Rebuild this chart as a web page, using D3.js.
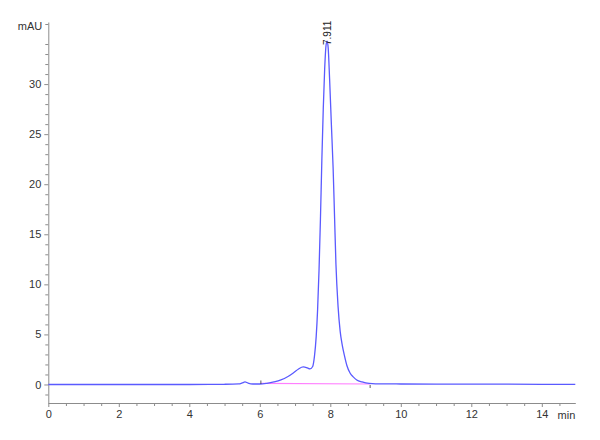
<!DOCTYPE html>
<html>
<head>
<meta charset="utf-8">
<script src="https://cdn.jsdelivr.net/npm/d3@7"></script>
<style>
  body { margin: 0; background: #fff; }
  svg { display: block; }
  .axis path, .axis line { stroke: #8c8c8c; }
  .axis text { font-family: "Liberation Sans Narrow", "Liberation Sans", Arial, sans-serif; font-size: 11px; fill: #333; }
</style>
</head>
<body>
<div id="chart"></div>
<script>
// Chromatogram trace (min, mAU)
const tiempos = [0, 1, 2, 3, 4, 5, 5.4, 5.5, 5.58, 5.66, 5.8, 6.0, 6.2, 6.4, 6.6, 6.8, 6.95, 7.1, 7.23, 7.35, 7.42, 7.5,
  7.55, 7.6, 7.64, 7.68, 7.72, 7.76, 7.8, 7.84, 7.88, 7.91, 7.94, 7.98, 8.03, 8.08, 8.12, 8.16, 8.22, 8.28, 8.34, 8.4,
  8.47, 8.56, 8.65, 8.75, 8.9, 9.1, 9.5, 10, 11, 12, 13, 14, 14.95];
const mau = [0.0, 0.0, 0.0, 0.0, 0.0, 0.02, 0.05, 0.15, 0.25, 0.15, 0.05, 0.05, 0.12, 0.25, 0.45, 0.8, 1.15, 1.55, 1.75, 1.65, 1.55, 1.8,
  2.8, 4.8, 7.5, 11.4, 16.5, 22.4, 27.5, 31.5, 33.9, 34.3, 33.6, 30.5, 26.0, 21.6, 16.8, 12.0, 7.8, 5.3, 3.9, 2.9,
  1.9, 1.15, 0.76, 0.45, 0.26, 0.12, 0.06, 0.05, 0.04, 0.04, 0.03, 0.02, 0.02];

// Integration baseline (min, mAU)
const baseT = [6.03, 9.13];
const baseV = [0.1, 0.05];

const picoTiempo = 7.911;
const picoAltura = 34.3;
const picoEtiqueta = "7.911";

const xMayores = [0, 2, 4, 6, 8, 10, 12, 14];
const yMayores = [0, 5, 10, 15, 20, 25, 30];

const width = 600, height = 440;

const svg = d3.select("#chart").append("svg")
  .attr("width", width).attr("height", height);

const x = d3.scaleLinear().domain([0, 14.95]).range([48.3, 575.3]);
const y = d3.scaleLinear().domain([-1.85, 36.2]).range([403, 22]);

// Ejes: menores primero
const xMenores = d3.range(0, 15, 0.5).filter(v => v % 2 !== 0);
svg.append("g").attr("class", "axis")
  .attr("transform", `translate(0,${y(-1.85)})`)
  .call(d3.axisBottom(x).tickValues(xMenores).tickSize(3).tickFormat(""))
  .select(".domain").remove();
svg.append("g").attr("class", "axis")
  .attr("transform", `translate(0,${y(-1.85)})`)
  .call(d3.axisBottom(x).tickValues(xMayores).tickSize(4).tickSizeOuter(0).tickPadding(3).tickFormat(d3.format("d")));

const yMenores = d3.range(-1, 37, 1).filter(v => v % 5 !== 0);
svg.append("g").attr("class", "axis")
  .attr("transform", `translate(${x(0)},0)`)
  .call(d3.axisLeft(y).tickValues(yMenores).tickSize(3).tickFormat(""))
  .select(".domain").remove();
svg.append("g").attr("class", "axis")
  .attr("transform", `translate(${x(0)},0)`)
  .call(d3.axisLeft(y).tickValues(yMayores).tickSize(4).tickSizeOuter(0).tickPadding(3).tickFormat(d3.format("d")));

svg.append("text")
  .attr("x", x(0) - 6).attr("y", y(35.4))
  .attr("text-anchor", "end")
  .style("font-family", "'Liberation Sans Narrow', 'Liberation Sans', Arial, sans-serif")
  .style("font-size", "11px").style("fill", "#333")
  .text("mAU");

svg.append("text")
  .attr("x", x(14.95)).attr("y", 419)
  .attr("text-anchor", "end")
  .style("font-family", "'Liberation Sans Narrow', 'Liberation Sans', Arial, sans-serif")
  .style("font-size", "11px").style("fill", "#333")
  .text("min");

// Linea base de integracion
svg.append("line")
  .attr("x1", x(baseT[0])).attr("y1", y(baseV[0]))
  .attr("x2", x(baseT[1])).attr("y2", y(baseV[1]))
  .attr("stroke", "#ff7fff").attr("stroke-width", 1.2);

// Traza
const puntos = tiempos.map((t, i) => [t, mau[i]]);
svg.append("path")
  .datum(puntos)
  .attr("fill", "none")
  .attr("stroke", "#5a5aff")
  .attr("stroke-width", 1.3)
  .attr("d", d3.line().x(d => x(d[0])).y(d => y(d[1])).curve(d3.curveMonotoneX));

// Marcas de inicio/fin de pico
svg.append("line")
  .attr("x1", x(baseT[0])).attr("x2", x(baseT[0]))
  .attr("y1", y(baseV[0]) - 3).attr("y2", y(baseV[0]) + 0.5)
  .attr("stroke", "#333").attr("stroke-width", 0.8);
svg.append("line")
  .attr("x1", x(baseT[1])).attr("x2", x(baseT[1]))
  .attr("y1", y(baseV[1]) + 1).attr("y2", y(baseV[1]) + 4)
  .attr("stroke", "#333").attr("stroke-width", 0.8);

// Etiqueta del pico
svg.append("text")
  .attr("transform", `translate(${x(picoTiempo) + 3.5},${y(picoAltura) + 4}) rotate(-90)`)
  .attr("text-anchor", "start")
  .style("font-family", "'Liberation Sans', Arial, sans-serif")
  .style("font-size", "10px").style("fill", "#222")
  .text(picoEtiqueta);
</script>
</body>
</html>
